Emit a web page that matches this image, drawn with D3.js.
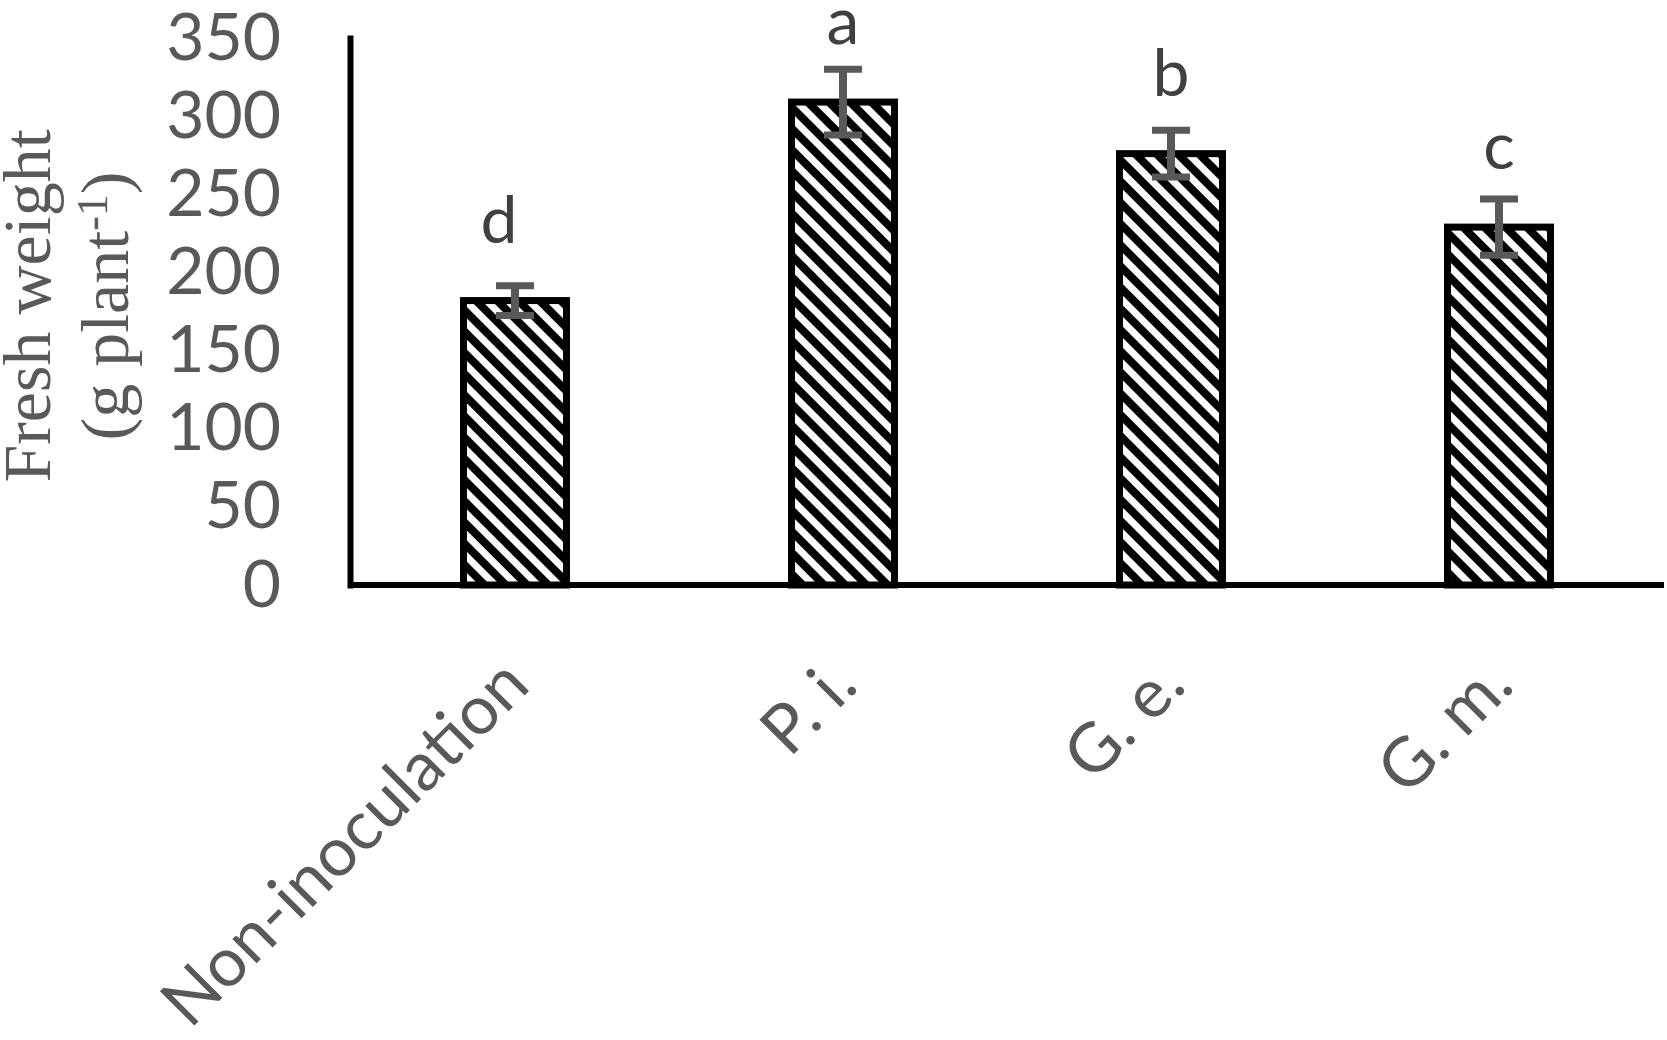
<!DOCTYPE html>
<html>
<head>
<meta charset="utf-8">
<script src="https://cdn.jsdelivr.net/npm/d3@7"></script>
<style>
  body { margin: 0; background: #fff; }
  svg { display: block; }
</style>
</head>
<body>
<svg id="board"></svg>
<script>
// values
let categories = ['Non-inoculation', 'P. i.', 'G. e.', 'G. m.']
let means = [182, 309, 276, 229]
let errors = [9.5, 21, 15, 18]
let letters = ['d', 'a', 'b', 'c']
let yTicks = [0, 50, 100, 150, 200, 250, 300, 350]

let width = 1667
let height = 1040

let board = d3.select('#board')
    .attr('width', width)
    .attr('height', height)

let rows = categories.map((c, i) => ({ name: c, mean: means[i], err: errors[i], letter: letters[i] }))

let xScale = d3.scaleBand()
    .domain(categories)
    .range([351, 1663])
    .paddingInner(0.686)
    .paddingOuter(0.343)

let yScale = d3.scaleLinear()
    .domain([0, 350])
    .range([585, 38])

// diagonal hatch fill
let defs = board.append('defs')
let pat = defs.append('pattern')
    .attr('id', 'hatch')
    .attr('patternUnits', 'userSpaceOnUse')
    .attr('width', 15)
    .attr('height', 15)
    .attr('patternTransform', 'rotate(-45)')
pat.append('rect')
    .attr('width', 15).attr('height', 15)
    .attr('fill', '#fff')
pat.append('rect')
    .attr('width', 8).attr('height', 15)
    .attr('fill', '#000')
    .attr('shape-rendering', 'crispEdges')

// bars
board.selectAll('rect.bar')
    .data(rows)
    .enter()
    .append('rect')
    .attr('class', 'bar')
    .attr('x', d => xScale(d.name))
    .attr('y', d => yScale(d.mean))
    .attr('width', xScale.bandwidth())
    .attr('height', d => yScale(0) - yScale(d.mean))
    .attr('fill', 'url(#hatch)')
    .attr('stroke', '#000')
    .attr('stroke-width', 7)

// error bars
let errG = board.selectAll('g.err')
    .data(rows)
    .enter()
    .append('g')
    .attr('class', 'err')
    .attr('stroke', '#595959')

errG.append('line')
    .attr('x1', d => xScale(d.name) + xScale.bandwidth() / 2)
    .attr('x2', d => xScale(d.name) + xScale.bandwidth() / 2)
    .attr('y1', d => yScale(d.mean + d.err))
    .attr('y2', d => yScale(d.mean - d.err))
    .attr('stroke-width', 8)

errG.selectAll('line.cap')
    .data(d => [d.mean + d.err, d.mean - d.err].map(v => ({ name: d.name, v: v })))
    .enter()
    .append('line')
    .attr('class', 'cap')
    .attr('x1', d => xScale(d.name) + xScale.bandwidth() / 2 - 19)
    .attr('x2', d => xScale(d.name) + xScale.bandwidth() / 2 + 19)
    .attr('y1', d => yScale(d.v))
    .attr('y2', d => yScale(d.v))
    .attr('stroke-width', 7)

// significance letters (the first one sits a bit left in the original)
board.selectAll('text.letter')
    .data(rows)
    .enter()
    .append('text')
    .attr('class', 'letter')
    .attr('x', (d, i) => xScale(d.name) + xScale.bandwidth() / 2 - (i === 0 ? 16 : 0))
    .attr('y', d => yScale(d.mean) - 58)
    .attr('text-anchor', 'middle')
    .attr('font-family', 'Lato, sans-serif')
    .attr('font-size', 66)
    .attr('fill', '#404040')
    .text(d => d.letter)

// axes
let yAxis = d3.axisLeft(yScale)
    .tickValues(yTicks)
    .tickSize(0)
    .tickPadding(69)
let yG = board.append('g')
    .attr('transform', 'translate(350,0)')
    .call(yAxis)
yG.select('.domain')
    .attr('stroke', '#000')
    .attr('stroke-width', 6)
    .attr('stroke-linecap', 'square')
yG.selectAll('text')
    .attr('font-family', 'Lato, sans-serif')
    .attr('font-size', 66)
    .attr('fill', '#595959')

let xAxis = d3.axisBottom(xScale)
    .tickSize(0)
    .tickSizeOuter(0)
let xG = board.append('g')
    .attr('transform', 'translate(0,585)')
    .call(xAxis)
xG.select('.domain')
    .attr('d', 'M351,0H1664')
    .attr('stroke', '#000')
    .attr('stroke-width', 6)
xG.selectAll('text')
    .attr('font-family', 'Lato, sans-serif')
    .attr('font-size', 68)
    .attr('fill', '#595959')
    .attr('text-anchor', 'end')
    .attr('y', 0)
    .attr('dy', 0)
    .attr('transform', 'translate(17,103) rotate(-45)')

// y title
let title = board.append('text')
    .attr('transform', 'translate(50,306) rotate(-90)')
    .attr('text-anchor', 'middle')
    .attr('font-family', '"Liberation Serif", serif')
    .attr('font-size', 68)
    .attr('fill', '#595959')
title.append('tspan')
    .attr('x', 0)
    .text('Fresh weight')
let sub = board.append('text')
    .attr('transform', 'translate(128,306) rotate(-90)')
    .attr('text-anchor', 'middle')
    .attr('font-family', '"Liberation Serif", serif')
    .attr('font-size', 68)
    .attr('fill', '#595959')
sub.append('tspan').text('(g plant')
sub.append('tspan').attr('dy', -21).attr('font-size', 44).text('-1')
sub.append('tspan').attr('dy', 21).text(')')
</script>
</body>
</html>
